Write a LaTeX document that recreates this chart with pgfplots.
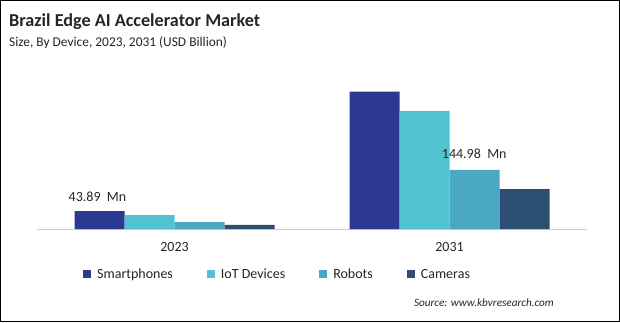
\documentclass[border=0pt]{standalone}
\usepackage{pgfplots}
\pgfplotsset{compat=1.18}
\usepackage{fontspec}
\setmainfont{Carlito}
\definecolor{cSmart}{HTML}{2B3990}
\definecolor{cIoT}{HTML}{4FC3CF}
\definecolor{cRob}{HTML}{4AA8C4}
\definecolor{cCam}{HTML}{2D4E73}
\begin{document}
\begin{tikzpicture}[x=1pt,y=1pt]
\fill[white] (0,0) rectangle (620,322);
\draw[black,line width=1pt] (0.5,0.5) rectangle (619.5,321.5);
\node[anchor=west,font=\bfseries\fontsize{18.2}{21}\selectfont,text=black!85,inner sep=0pt] at (9,300) {Brazil Edge AI Accelerator Market};
\node[anchor=west,font=\fontsize{13.4}{16}\selectfont,text=black!85,inner sep=0pt] at (9,279) {Size, By Device, 2023, 2031 (USD Billion)};
\begin{axis}[
  at={(37pt,93pt)}, anchor=south west,
  scale only axis, width=550pt, height=159pt,
  xmin=-0.5, xmax=1.5, ymin=0, ymax=390,
  ybar=0pt, bar width=50pt,
  axis x line*=bottom, axis y line=none,
  x axis line style={black!20, line width=0.8pt},
  xtick={0,1}, xticklabels={2023,2031},
  major tick length=0pt,
  xticklabel style={font=\fontsize{14}{16}\selectfont, text=black!85, yshift=-10pt},
  legend columns=4,
  legend style={at={(0.0836,-0.285)}, anchor=west, draw=none, fill=none, inner sep=0pt,
    font=\fontsize{14}{16}\selectfont, text=black!85,
    /tikz/every odd column/.append style={column sep=4pt},
    /tikz/every even column/.append style={column sep=32pt}},
  legend image code/.code={\fill[#1] (0pt,-4pt) rectangle (8pt,4pt);},
  clip=false,
]
\addplot[fill=cSmart, draw=none] coordinates {(0,43.89) (1,337)};
\addplot[fill=cIoT, draw=none] coordinates {(0,34) (1,290)};
\addplot[fill=cRob, draw=none] coordinates {(0,17) (1,144.98)};
\addplot[fill=cCam, draw=none] coordinates {(0,10) (1,98)};
\legend{Smartphones, IoT Devices, Robots, Cameras}
\node[font=\fontsize{14}{16}\selectfont, text=black!85] at (axis cs:-0.28,80) {43.89\ \ Mn};
\node[font=\fontsize{14}{16}\selectfont, text=black!85] at (axis cs:1.09,184) {144.98\ \ Mn};
\end{axis}
\node[anchor=east,font=\itshape\fontsize{11.2}{13}\selectfont,text=black!85,inner sep=0pt] at (554,19) {Source: www.kbvresearch.com};
\end{tikzpicture}
\end{document}
